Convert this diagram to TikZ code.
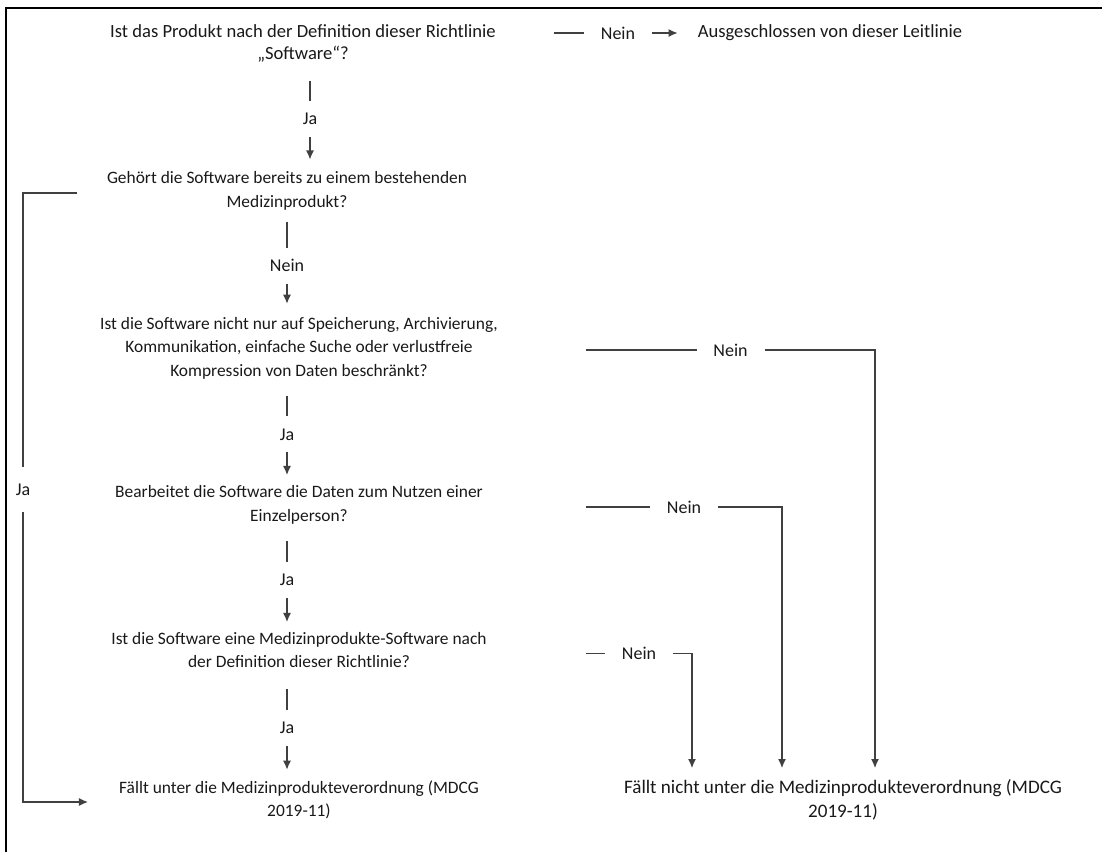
\documentclass[tikz,border=0pt]{standalone}
\usepackage{fontspec}
\setmainfont{Carlito}
\usetikzlibrary{arrows.meta}
\begin{document}
\begin{tikzpicture}[x=1pt,y=-1pt,
  txt/.style={inner sep=0pt, align=center, text=black!90,
    font=\fontsize{17.4}{23.5}\selectfont,
    execute at begin node=\strut, execute at end node=\strut},
  bigtxt/.style={txt, font=\fontsize{18.6}{22}\selectfont},
  lbl/.style={fill=white, inner sep=0pt, minimum width=68pt, minimum height=36pt,
    text=black!90, font=\fontsize{18}{22}\selectfont},
  conn/.style={draw=black!75, line width=1.3pt},
  arr/.style={conn, -{Latex[length=9pt,width=8pt]}}]

\path[use as bounding box] (0,0) rectangle (1102,852);
% outer frame (open at right and bottom)
\draw[line width=2pt, black] (6,852) -- (6,8) -- (1102,8);

% columns used by the connectors
\coordinate (top) at (310,0);
\coordinate (spine) at (287,0);
\coordinate (lx) at (23,0);
\coordinate (nx) at (586,0);
\coordinate (d3) at (875,0);
\coordinate (d4) at (782,0);
\coordinate (d5) at (692,0);

% questions and outcomes
\node[bigtxt] (n1) at (303,45) {Ist das Produkt nach der Definition dieser Richtlinie\\„Software“?};
\node[bigtxt] (ex) at (830,33) {Ausgeschlossen von dieser Leitlinie};
\node[txt] (n2) at (287,193) {Gehört die Software bereits zu einem bestehenden\\Medizinprodukt?};
\node[txt] (n3) at (299,350) {Ist die Software nicht nur auf Speicherung, Archivierung,\\Kommunikation, einfache Suche oder verlustfreie\\Kompression von Daten beschränkt?};
\node[txt] (n4) at (299,507) {Bearbeitet die Software die Daten zum Nutzen einer\\Einzelperson?};
\node[txt] (n5) at (299,653.5) {Ist die Software eine Medizinprodukte-Software nach\\der Definition dieser Richtlinie?};
\node[txt] (n6) at (299,802) {Fällt unter die Medizinprodukteverordnung (MDCG\\2019-11)};
\node[txt, font=\fontsize{19.1}{23.5}\selectfont] (n7) at (843,802) {Fällt nicht unter die Medizinprodukteverordnung (MDCG\\2019-11)};

% main column
\draw[arr, shorten <=15pt, shorten >=12pt] (n1.south -| top) -- node[lbl]{Ja} (n2.north -| top);
\draw[arr, shorten <=7pt, shorten >=13pt] (n2.south -| spine) -- node[lbl]{Nein} (n3.north -| spine);
\draw[arr, shorten <=13pt, shorten >=10.5pt] (n3.south -| spine) -- node[lbl]{Ja} (n4.north -| spine);
\draw[arr, shorten <=12.5pt, shorten >=10pt] (n4.south -| spine) -- node[lbl]{Ja} (n5.north -| spine);
\draw[arr, shorten <=14pt, shorten >=10.5pt] (n5.south -| spine) -- node[lbl]{Ja} (n6.north -| spine);

% exclusion at the top
\draw[arr, shorten <=58pt, shorten >=20pt] (n1.east |- ex.west) -- node[lbl, pos=0.605]{Nein} (ex.west);

% "Nein" branches to the right outcome
\draw[arr, shorten >=11.5pt] (n3.east -| nx) -- node[lbl]{Nein} (n3.east -| d3) -- (n7.north -| d3);
\draw[arr, shorten >=11.5pt] (n4.east -| nx) -- node[lbl]{Nein} (n4.east -| d4) -- (n7.north -| d4);
\draw[arr, shorten >=11.5pt] (n5.east -| nx) -- node[lbl]{Nein} (n5.east -| d5) -- (n7.north -| d5);

% "Ja" bypass on the left
\draw[arr, shorten <=30pt, shorten >=31pt] (n2.west) -- (n2.west -| lx)
  -- node[lbl, minimum width=20pt, minimum height=45pt, pos=0.487]{Ja} (n6.west -| lx) -- (n6.west);
\end{tikzpicture}
\end{document}
